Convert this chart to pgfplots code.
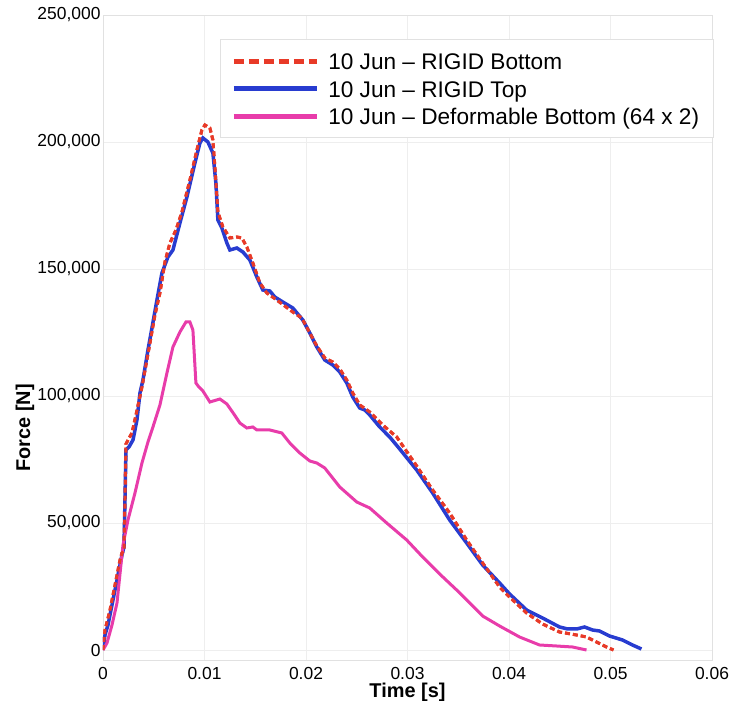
\documentclass[border=0pt]{standalone}
\usepackage{pgfplots}
\pgfplotsset{compat=1.18}
\usepackage{fontspec}
\setmainfont{Liberation Sans}
\definecolor{cred}{RGB}{232,58,40}
\definecolor{cblue}{RGB}{40,60,208}
\definecolor{cmag}{RGB}{232,60,170}
\definecolor{gridc}{RGB}{238,238,238}
\definecolor{framec}{RGB}{225,225,225}
\begin{document}
\begin{tikzpicture}
\begin{axis}[
  scale only axis, width=609bp, height=645bp,
  xmin=0, xmax=0.06, ymin=-3937, ymax=250000,
  xtick={0,0.01,0.02,0.03,0.04,0.05,0.06},
  ytick={0,50000,100000,150000,200000,250000},
  scaled x ticks=false, scaled y ticks=false,
  xticklabel style={/pgf/number format/fixed,/pgf/number format/precision=2},
  yticklabel style={/pgf/number format/fixed,/pgf/number format/1000 sep={,}},
  /pgf/number format/assume math mode=true,
  ticklabel style={font=\fontsize{17.5}{20}\selectfont},
  xticklabel style={yshift=-4bp},
  yticklabel style={xshift=1bp},
  major tick length=0pt,
  grid=major, major grid style={gridc, line width=0.6bp},
  axis line style={framec, line width=0.8bp},
  xlabel={\textbf{Time [s]}},
  ylabel={\textbf{Force [N]}},
  label style={font=\fontsize{20}{24}\selectfont},
  xlabel style={at={(axis description cs:0.5,0)}, anchor=base, yshift=-37bp},
  ylabel style={at={(axis description cs:-0.128,0.36)}, anchor=center},
  legend style={at={(rel axis cs:0.192,0.963)}, anchor=north west,
    draw=framec, line width=0.8bp, fill=white,
    inner xsep=11bp, inner ysep=8bp, row sep=0pt, column sep=6bp,
    font=\fontsize{22.7}{26}\selectfont,
    nodes={text height=19.5bp, text depth=2.5bp, inner ysep=2.75bp, inner xsep=3bp}},
  legend cell align=left,
  legend image code/.code={\draw[#1, line width=5bp] (0bp,0bp) -- (83bp,0bp);},
]
\addplot[cred, line width=3bp, dash pattern=on 5bp off 3bp,
  legend image post style={dash pattern=on 10bp off 5bp}] coordinates {
(0,0) (0.000197,7874) (0.000689,15748) (0.001181,25591) (0.001673,35433) (0.00187,38189)
(0.002067,39370) (0.002165,59055) (0.002264,81102) (0.002461,82677) (0.002854,85433)
(0.003248,92520) (0.003839,103543) (0.004626,120866) (0.005118,131890) (0.00561,140551)
(0.006102,152756) (0.006594,160236) (0.007185,165354) (0.007776,172441) (0.008563,185039)
(0.009252,196850) (0.009744,204724) (0.01004,206693) (0.010531,205512) (0.010827,200787)
(0.011024,190157) (0.011319,172441) (0.011811,166535) (0.0125,162205) (0.013189,162598)
(0.013681,162205) (0.014173,158661) (0.014764,152362) (0.015453,144488) (0.016142,140551)
(0.017126,137795) (0.018701,133071) (0.019587,130709) (0.020374,124803) (0.021063,119685)
(0.02185,114961) (0.022638,113386) (0.023327,110630) (0.024016,106299) (0.024606,101181)
(0.025295,96457) (0.02628,93701) (0.027559,88583) (0.028937,83858) (0.030906,72441)
(0.03248,62992) (0.034154,53937) (0.035827,43307) (0.037402,34252) (0.039075,24803)
(0.040059,20866) (0.041732,14567) (0.043307,10236) (0.04498,7087) (0.046654,5906)
(0.047638,5118) (0.048622,3150) (0.049606,1181) (0.050295,0)
};
\addlegendentry{10 Jun – RIGID Bottom}
\addplot[cblue, line width=3.5bp] coordinates {
(0,0) (0.000197,5906) (0.000492,9843) (0.000886,17717) (0.001378,27559) (0.00187,37402)
(0.002067,40551) (0.002165,59055) (0.002264,78740) (0.002559,79921) (0.002953,82677)
(0.003346,90551) (0.003642,101181) (0.003937,106299) (0.004429,118110) (0.004823,126771)
(0.005315,137795) (0.005807,148425) (0.006398,154724) (0.00689,157480) (0.007579,168110)
(0.008268,178346) (0.009055,191732) (0.009547,199606) (0.009843,201574) (0.010335,200000)
(0.010827,195669) (0.011122,183858) (0.011319,169291) (0.011713,166141) (0.012205,160236)
(0.0125,157480) (0.013189,158268) (0.01378,156693) (0.014469,153543) (0.015157,146850)
(0.015748,141732) (0.016437,141339) (0.016929,138976) (0.017717,137008) (0.018701,134646)
(0.019685,129921) (0.020374,124803) (0.021063,119291) (0.02185,114173) (0.022638,112205)
(0.023327,109449) (0.024016,105118) (0.024606,99606) (0.025295,95276) (0.025787,94488)
(0.02628,92520) (0.027264,87795) (0.028248,83858) (0.029232,79134) (0.030906,70866)
(0.03248,61811) (0.034154,51181) (0.035827,42126) (0.037402,33465) (0.039075,26378)
(0.040059,22047) (0.041732,15748) (0.043307,12598) (0.04498,9055) (0.045768,8268)
(0.046654,8268) (0.047441,9055) (0.048228,7874) (0.048917,7480) (0.049902,5512)
(0.051181,3937) (0.052165,1969) (0.053051,394)
};
\addlegendentry{10 Jun – RIGID Top}
\addplot[cmag, line width=3bp] coordinates {
(0,0) (0.000394,2756) (0.000886,9843) (0.001378,18504) (0.001969,41339) (0.002461,51181)
(0.00315,61811) (0.003839,73622) (0.004429,81890) (0.004921,87795) (0.00561,96457)
(0.006299,109055) (0.00689,119291) (0.007579,125197) (0.008169,129134) (0.008563,129134)
(0.008858,125984) (0.009154,105118) (0.009449,103543) (0.009843,101969) (0.010531,97638)
(0.011516,98819) (0.012205,96850) (0.012894,92913) (0.013484,89370) (0.014173,87402)
(0.014764,87795) (0.015157,86614) (0.016437,86614) (0.017618,85433) (0.018406,81496)
(0.01939,77559) (0.020374,74409) (0.021063,73622) (0.02185,71654) (0.023327,64173)
(0.025,58268) (0.02628,55906) (0.027953,50000) (0.029921,43307) (0.031496,36614)
(0.03317,29921) (0.034843,23622) (0.036122,18504) (0.037402,13386) (0.039075,9449)
(0.041043,5118) (0.043012,1969) (0.044685,1575) (0.04626,1181) (0.047638,0)
};
\addlegendentry{10 Jun – Deformable Bottom (64 x 2)}
\addplot[cred, line width=3bp, dash pattern=on 5bp off 3bp, forget plot] coordinates {
(0,0) (0.000197,7874) (0.000689,15748) (0.001181,25591) (0.001673,35433) (0.00187,38189)
(0.002067,39370) (0.002165,59055) (0.002264,81102) (0.002461,82677) (0.002854,85433)
(0.003248,92520) (0.003839,103543) (0.004626,120866) (0.005118,131890) (0.00561,140551)
(0.006102,152756) (0.006594,160236) (0.007185,165354) (0.007776,172441) (0.008563,185039)
(0.009252,196850) (0.009744,204724) (0.01004,206693) (0.010531,205512) (0.010827,200787)
(0.011024,190157) (0.011319,172441) (0.011811,166535) (0.0125,162205) (0.013189,162598)
(0.013681,162205) (0.014173,158661) (0.014764,152362) (0.015453,144488) (0.016142,140551)
(0.017126,137795) (0.018701,133071) (0.019587,130709) (0.020374,124803) (0.021063,119685)
(0.02185,114961) (0.022638,113386) (0.023327,110630) (0.024016,106299) (0.024606,101181)
(0.025295,96457) (0.02628,93701) (0.027559,88583) (0.028937,83858) (0.030906,72441)
(0.03248,62992) (0.034154,53937) (0.035827,43307) (0.037402,34252) (0.039075,24803)
(0.040059,20866) (0.041732,14567) (0.043307,10236) (0.04498,7087) (0.046654,5906)
(0.047638,5118) (0.048622,3150) (0.049606,1181) (0.050295,0)
};
\end{axis}
\pgfresetboundingbox
\path[use as bounding box] ([shift={(-103bp,-41bp)}]current axis.south west) rectangle ([shift={(20bp,15bp)}]current axis.north east);
\end{tikzpicture}
\end{document}
